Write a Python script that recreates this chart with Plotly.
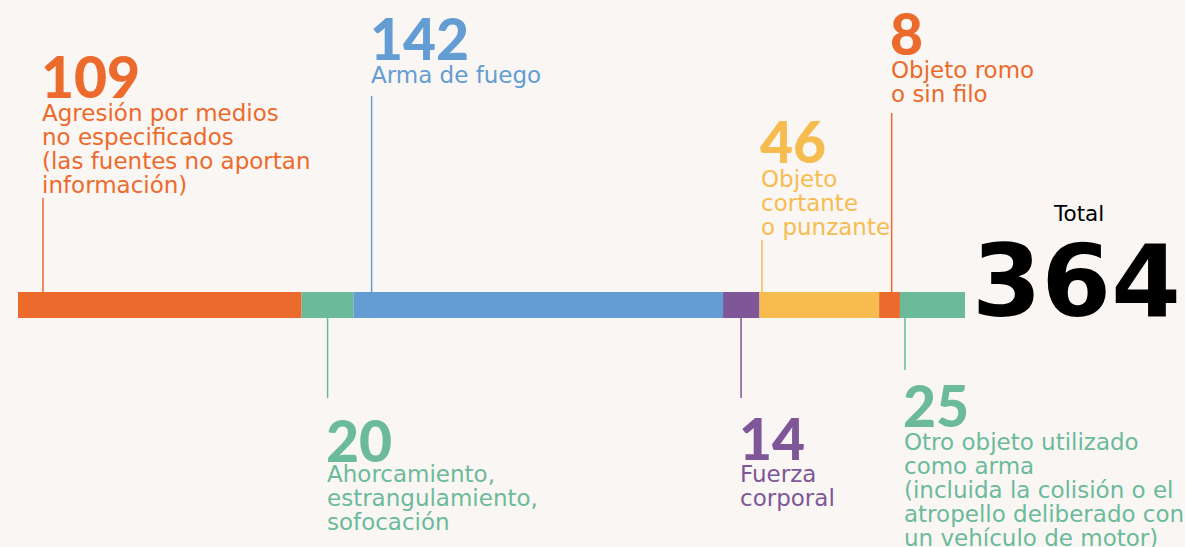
import plotly.graph_objects as go

# ---------------- data ----------------
categories = [
    "Agresión por medios no especificados",
    "Ahorcamiento, estrangulamiento, sofocación",
    "Arma de fuego",
    "Fuerza corporal",
    "Objeto cortante o punzante",
    "Objeto romo o sin filo",
    "Otro objeto utilizado como arma",
]
values = [109, 20, 142, 14, 46, 8, 25]
label_lines = [
    ["Agresión por medios", "no especificados", "(las fuentes no aportan", "información)"],
    ["Ahorcamiento,", "estrangulamiento,", "sofocación"],
    ["Arma de fuego"],
    ["Fuerza", "corporal"],
    ["Objeto", "cortante", "o punzante"],
    ["Objeto romo", "o sin filo"],
    ["Otro objeto utilizado", "como arma", "(incluida la colisión o el", "atropello deliberado con", "un vehículo de motor)"],
]
total_label = "Total"

# ---------------- styles ----------------
colors = ["#EC6A2B", "#6BBB9B", "#639DD3", "#7F5799", "#F7BC50", "#EC6A2B", "#6BBB9B"]
BG = "#FAF6F3"
W, H = 1185, 547
BAR_L, BAR_R = 18, 965
BAR_TOP, BAR_BOT = 292, 318
k = (BAR_R - BAR_L) / sum(values)  # px per unit

# per label: leader anchor (px offset from segment start), leader y0,y1, number baseline, first desc baseline
label_style = [
    dict(dx=25, ly=(198, BAR_TOP), nb=98, db=121),
    dict(dx=26, ly=(BAR_BOT, 398), nb=462, db=482),
    dict(dx=18, ly=(96, BAR_TOP), nb=60, db=83),
    dict(dx=18, ly=(BAR_BOT, 398), nb=460, db=482),
    dict(dx=2.5, ly=(240, BAR_TOP), nb=163, db=187),
    dict(dx=12.5, ly=(113, BAR_TOP), nb=55, db=78),
    dict(dx=5, ly=(BAR_BOT, 370), nb=427, db=450),
]
NUM_FONT = "Lato"
TXT_FONT = "DejaVu Sans"
BIG_FONT = "DejaVu Sans"
NUM_SIZE = 57
TXT_SIZE = 23
LINE_STEP = 24
NUM_DESC = 0.236   # descent fraction for baseline placement
TXT_MID = 0.346    # baseline -> text box middle, in em

fig = go.Figure()
starts = []
acc = 0
for v in values:
    starts.append(acc)
    acc += v
total = acc

for cat, v, s, c in zip(categories, values, starts, colors):
    fig.add_trace(go.Bar(
        x=[v], y=[(BAR_TOP + BAR_BOT) / 2], base=[s], orientation="h",
        width=BAR_BOT - BAR_TOP, marker=dict(color=c, line=dict(width=0)),
        name=cat, hovertemplate=cat + ": %{x}<extra></extra>",
    ))

annotations = []
shapes = []
for v, s, c, lines, st in zip(values, starts, colors, label_lines, label_style):
    lx = s + st["dx"] / k
    shapes.append(dict(type="line", xref="x", yref="y", x0=lx, x1=lx,
                       y0=st["ly"][0], y1=st["ly"][1],
                       line=dict(color=c, width=1.5)))
    tx = lx - 2 / k
    annotations.append(dict(
        x=tx - 1 / k, y=st["nb"] + NUM_DESC * NUM_SIZE, xref="x", yref="y",
        text=str(v), showarrow=False, xanchor="left", yanchor="bottom",
        borderpad=0, font=dict(family=NUM_FONT, size=NUM_SIZE, color=c, weight=900)))
    for i, ln in enumerate(lines):
        annotations.append(dict(
            x=tx, y=st["db"] + i * LINE_STEP - TXT_MID * TXT_SIZE, xref="x", yref="y",
            text=ln, showarrow=False, xanchor="left", yanchor="middle",
            borderpad=0, font=dict(family=TXT_FONT, size=TXT_SIZE, color=c, weight=400)))

# total
annotations.append(dict(
    x=(1078 - BAR_L) / k, y=222 + 0.236 * 21.5, xref="x", yref="y", text=total_label,
    showarrow=False, xanchor="center", yanchor="bottom", borderpad=0,
    font=dict(family=TXT_FONT, size=21.5, color="#000000", weight=400)))
annotations.append(dict(
    x=(1182 - BAR_L) / k, y=317 + 0.236 * 100, xref="x", yref="y", text=str(total),
    showarrow=False, xanchor="right", yanchor="bottom", borderpad=0,
    font=dict(family=BIG_FONT, size=100, color="#000000", weight=700)))

fig.update_layout(
    width=W, height=H, margin=dict(l=0, r=0, t=0, b=0),
    paper_bgcolor=BG, plot_bgcolor=BG, showlegend=False, barmode="overlay",
    xaxis=dict(range=[-BAR_L / k, (W - BAR_L) / k], visible=False, fixedrange=True),
    yaxis=dict(range=[H, 0], visible=False, fixedrange=True),
    annotations=annotations, shapes=shapes,
)
fig.write_html(
    "out.html",
    config={"displayModeBar": False},
    post_script="document.body.style.margin='0';document.body.style.background='" + BG + "';document.body.style.overflow='hidden';",
)
